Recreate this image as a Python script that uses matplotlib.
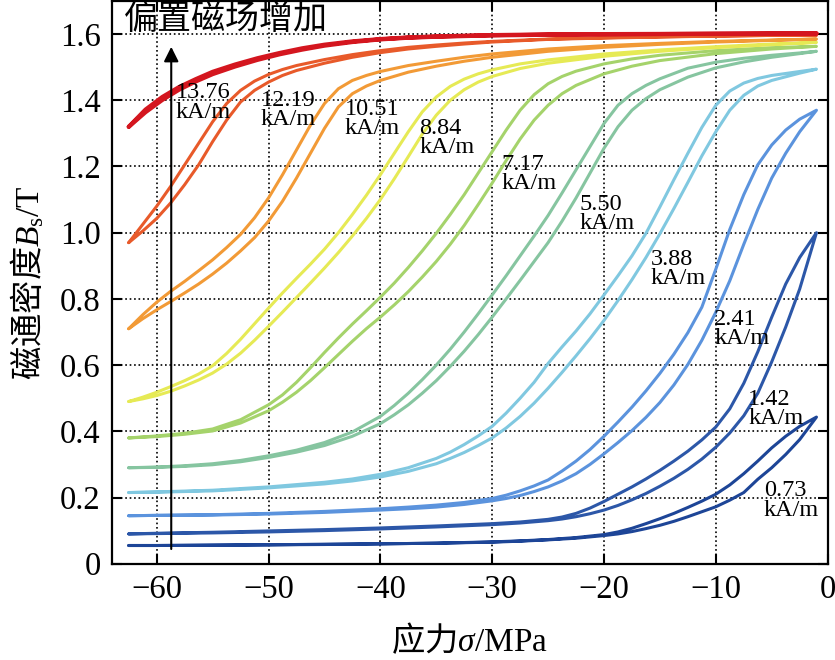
import matplotlib
matplotlib.use("Agg")
import matplotlib.pyplot as plt

plt.rcParams['font.family'] = ['Liberation Serif', 'Noto Sans CJK SC']
plt.rcParams['mathtext.fontset'] = 'custom'
plt.rcParams['mathtext.rm'] = 'Liberation Serif'
plt.rcParams['mathtext.it'] = 'Liberation Serif:italic'
plt.rcParams['mathtext.sf'] = 'Noto Sans CJK SC'

# bias field of each loop (kA/m), weakest first
fields = ['0.73', '1.42', '2.41', '3.88', '5.50', '7.17', '8.84', '10.51', '12.19', '13.76']

# stress points (MPa) and upper / lower branch of every loop (T)
s01 = [-62.5, -60, -55, -50, -45, -40, -35, -30, -27.5, -25, -22.5, -20, -18.75, -17.5, -16.25, -15,
       -13.75, -12.5, -11.25, -10, -8.75, -7.5, -6.25, -5, -3.75, -2.5, -1]
up01 = [0.055, 0.055, 0.056, 0.057, 0.059, 0.060, 0.062, 0.066, 0.069, 0.073, 0.079, 0.088, 0.096, 0.107,
        0.121, 0.136, 0.152, 0.170, 0.189, 0.210, 0.238, 0.272, 0.310, 0.350, 0.385, 0.415, 0.443]
lo01 = [0.055, 0.055, 0.056, 0.057, 0.058, 0.060, 0.062, 0.065, 0.068, 0.072, 0.077, 0.085, 0.090, 0.097,
        0.106, 0.116, 0.128, 0.142, 0.157, 0.172, 0.192, 0.215, 0.255, 0.290, 0.330, 0.375, 0.443]

s02 = [-62.5, -60, -55, -50, -45, -40, -35, -30, -27.5, -25, -23.75, -22.5, -21.25, -20, -18.75, -17.5,
       -16.25, -15, -13.75, -12.5, -11.25, -10, -8.75, -7.5, -6.25, -5, -3.75, -2.5, -1]
up02 = [0.090, 0.092, 0.095, 0.099, 0.103, 0.108, 0.114, 0.121, 0.126, 0.134, 0.141, 0.152, 0.168, 0.188,
        0.210, 0.232, 0.256, 0.282, 0.310, 0.340, 0.374, 0.413, 0.468, 0.545, 0.640, 0.745, 0.845, 0.925, 1.000]
lo02 = [0.090, 0.091, 0.093, 0.096, 0.100, 0.105, 0.111, 0.118, 0.123, 0.130, 0.135, 0.142, 0.151, 0.162,
        0.176, 0.193, 0.212, 0.234, 0.258, 0.285, 0.316, 0.352, 0.395, 0.447, 0.515, 0.610, 0.715, 0.830, 1.000]

s03 = [-62.5, -60, -55, -50, -45, -40, -37.5, -35, -32.5, -30, -28.75, -27.5, -26.25, -25, -23.75, -22.5,
       -21.25, -20, -18.75, -17.5, -16.25, -15, -13.75, -12.5, -11.25, -10, -8.75, -7.5, -6.25, -5, -3.75,
       -2.5, -1]
up03 = [0.145, 0.146, 0.148, 0.152, 0.158, 0.166, 0.171, 0.177, 0.185, 0.197, 0.207, 0.220, 0.235, 0.253,
        0.280, 0.310, 0.345, 0.385, 0.428, 0.473, 0.522, 0.575, 0.633, 0.698, 0.775, 0.890, 1.010, 1.115,
        1.205, 1.265, 1.310, 1.343, 1.370]
lo03 = [0.145, 0.146, 0.147, 0.150, 0.155, 0.162, 0.166, 0.171, 0.179, 0.190, 0.197, 0.206, 0.218, 0.232,
        0.250, 0.272, 0.300, 0.332, 0.366, 0.402, 0.442, 0.487, 0.540, 0.602, 0.675, 0.760, 0.855, 0.965,
        1.070, 1.165, 1.240, 1.305, 1.370]

s04 = [-62.5, -60, -55, -50, -45, -42.5, -40, -37.5, -35, -33.75, -32.5, -31.25, -30, -28.75, -27.5, -26.25,
       -25, -23.75, -22.5, -21.25, -20, -18.75, -17.5, -16.25, -15, -13.75, -12.5, -11.25, -10, -8.75, -7.5,
       -6.25, -5, -2.5, -1]
up04 = [0.215, 0.217, 0.222, 0.232, 0.246, 0.256, 0.270, 0.290, 0.318, 0.337, 0.360, 0.386, 0.415, 0.455,
        0.500, 0.548, 0.605, 0.655, 0.703, 0.755, 0.812, 0.870, 0.930, 0.998, 1.078, 1.160, 1.240, 1.318,
        1.385, 1.428, 1.452, 1.466, 1.475, 1.487, 1.494]
lo04 = [0.215, 0.216, 0.220, 0.229, 0.241, 0.250, 0.262, 0.279, 0.302, 0.318, 0.336, 0.357, 0.380, 0.410,
        0.445, 0.485, 0.530, 0.578, 0.628, 0.680, 0.735, 0.795, 0.858, 0.925, 0.997, 1.073, 1.152, 1.232,
        1.305, 1.370, 1.415, 1.443, 1.460, 1.482, 1.494]

s05 = [-62.5, -60, -57.5, -55, -52.5, -50, -47.5, -45, -42.5, -40, -38.75, -37.5, -36.25, -35, -33.75, -32.5,
       -31.25, -30, -28.75, -27.5, -26.25, -25, -23.75, -22.5, -21.25, -20, -18.75, -17.5, -16.25, -15,
       -12.5, -10, -7.5, -5, -2.5, -1]
up05 = [0.290, 0.292, 0.296, 0.302, 0.312, 0.326, 0.343, 0.366, 0.398, 0.445, 0.478, 0.515, 0.556, 0.600,
        0.648, 0.700, 0.755, 0.812, 0.870, 0.930, 0.990, 1.052, 1.120, 1.190, 1.260, 1.330, 1.385, 1.420,
        1.445, 1.465, 1.497, 1.515, 1.527, 1.536, 1.543, 1.548]
lo05 = [0.290, 0.291, 0.294, 0.299, 0.308, 0.321, 0.337, 0.357, 0.385, 0.423, 0.450, 0.480, 0.515, 0.553,
        0.596, 0.642, 0.692, 0.745, 0.800, 0.856, 0.913, 0.970, 1.035, 1.105, 1.180, 1.255, 1.320, 1.370,
        1.405, 1.432, 1.470, 1.498, 1.516, 1.530, 1.541, 1.548]

s06 = [-62.5, -60, -57.5, -55, -52.5, -50, -48.75, -47.5, -46.25, -45, -43.75, -42.5, -41.25, -40, -38.75,
       -37.5, -36.25, -35, -33.75, -32.5, -31.25, -30, -28.75, -27.5, -26.25, -25, -23.75, -22.5, -20, -17.5,
       -15, -10, -5, -1]
up06 = [0.380, 0.386, 0.394, 0.407, 0.435, 0.480, 0.510, 0.548, 0.592, 0.638, 0.682, 0.724, 0.764, 0.805,
        0.848, 0.895, 0.945, 0.998, 1.055, 1.115, 1.180, 1.245, 1.310, 1.370, 1.417, 1.450, 1.472, 1.488,
        1.510, 1.525, 1.536, 1.550, 1.559, 1.563]
lo06 = [0.380, 0.384, 0.391, 0.401, 0.425, 0.462, 0.488, 0.518, 0.553, 0.592, 0.632, 0.672, 0.710, 0.745,
        0.782, 0.822, 0.866, 0.913, 0.965, 1.022, 1.085, 1.150, 1.218, 1.283, 1.340, 1.385, 1.420, 1.445,
        1.480, 1.503, 1.520, 1.541, 1.555, 1.563]

s07 = [-62.5, -61.25, -60, -58.75, -57.5, -56.25, -55, -53.75, -52.5, -51.25, -50, -48.75, -47.5, -46.25,
       -45, -43.75, -42.5, -41.25, -40, -38.75, -37.5, -36.25, -35, -33.75, -32.5, -31.25, -30, -27.5, -25,
       -20, -15, -10, -5, -1]
up07 = [0.490, 0.503, 0.518, 0.535, 0.553, 0.573, 0.598, 0.635, 0.678, 0.725, 0.772, 0.818, 0.862, 0.905,
        0.950, 1.000, 1.055, 1.113, 1.175, 1.240, 1.305, 1.365, 1.410, 1.442, 1.464, 1.480, 1.492, 1.510,
        1.522, 1.540, 1.552, 1.562, 1.570, 1.575]
lo07 = [0.490, 0.498, 0.508, 0.521, 0.537, 0.555, 0.576, 0.603, 0.636, 0.675, 0.717, 0.760, 0.804, 0.848,
        0.893, 0.940, 0.990, 1.043, 1.100, 1.163, 1.230, 1.298, 1.355, 1.400, 1.432, 1.455, 1.472, 1.496,
        1.512, 1.533, 1.548, 1.559, 1.568, 1.575]

s08 = [-62.5, -61.25, -60, -58.75, -57.5, -56.25, -55, -53.75, -52.5, -51.25, -50, -48.75, -47.5, -46.25,
       -45, -43.75, -42.5, -41.25, -40, -37.5, -35, -32.5, -30, -25, -20, -15, -10, -5, -1]
up08 = [0.710, 0.752, 0.790, 0.823, 0.853, 0.885, 0.918, 0.955, 0.995, 1.045, 1.105, 1.175, 1.250, 1.325,
        1.390, 1.435, 1.460, 1.475, 1.487, 1.505, 1.518, 1.530, 1.540, 1.555, 1.565, 1.572, 1.578, 1.582, 1.585]
lo08 = [0.710, 0.740, 0.767, 0.792, 0.818, 0.845, 0.875, 0.908, 0.945, 0.985, 1.035, 1.095, 1.165, 1.240,
        1.315, 1.380, 1.420, 1.443, 1.460, 1.485, 1.503, 1.518, 1.530, 1.548, 1.560, 1.569, 1.576, 1.581, 1.585]

s09 = [-62.5, -61.25, -60, -58.75, -57.5, -56.25, -55, -53.75, -52.5, -51.25, -50, -48.75, -47.5, -45,
       -42.5, -40, -37.5, -35, -32.5, -30, -25, -20, -15, -10, -5, -1]
up09 = [0.970, 1.025, 1.080, 1.140, 1.205, 1.270, 1.335, 1.390, 1.430, 1.458, 1.478, 1.493, 1.505, 1.523,
        1.538, 1.550, 1.560, 1.567, 1.573, 1.578, 1.585, 1.589, 1.592, 1.594, 1.596, 1.597]
lo09 = [0.970, 1.005, 1.043, 1.090, 1.145, 1.205, 1.275, 1.340, 1.395, 1.430, 1.455, 1.475, 1.490, 1.512,
        1.530, 1.544, 1.555, 1.563, 1.570, 1.576, 1.584, 1.588, 1.591, 1.594, 1.596, 1.597]

s10 = [-62.5, -61, -59.5, -58, -56.5, -55, -53, -51, -49, -47, -45, -42.5, -40, -37.5, -35, -30, -25, -20,
       -10, -1]
up10 = [1.320, 1.372, 1.410, 1.440, 1.464, 1.486, 1.508, 1.527, 1.543, 1.557, 1.568, 1.578, 1.585, 1.590,
        1.593, 1.597, 1.599, 1.600, 1.601, 1.602]
lo10 = [1.320, 1.364, 1.401, 1.432, 1.457, 1.479, 1.502, 1.522, 1.539, 1.553, 1.565, 1.576, 1.584, 1.589,
        1.592, 1.596, 1.598, 1.599, 1.601, 1.602]

stress = [s01, s02, s03, s04, s05, s06, s07, s08, s09, s10]
upper = [up01, up02, up03, up04, up05, up06, up07, up08, up09, up10]
lower = [lo01, lo02, lo03, lo04, lo05, lo06, lo07, lo08, lo09, lo10]

colors = ['#1d4597', '#2c57a8', '#5b93dd', '#80c8e0', '#86c5a0', '#a5d36b',
          '#e6ea55', '#f29a36', '#e85a2a', '#d4161f']

# label anchor (top-left), MPa / T
label_x = [-5.7, -7.1, -10.15, -15.8, -22.2, -29.2, -36.5, -43.2, -50.7, -58.3]
label_y = [0.252, 0.529, 0.770, 0.951, 1.117, 1.238, 1.348, 1.404, 1.431, 1.454]

xticks = [-60, -50, -40, -30, -20, -10, 0]
xticklabels = ['\u221260', '\u221250', '\u221240', '\u221230', '\u221220', '\u221210', '0']
yticks = [0, 0.2, 0.4, 0.6, 0.8, 1.0, 1.2, 1.4, 1.6]
yticklabels = ['0', '0.2', '0.4', '0.6', '0.8', '1.0', '1.2', '1.4', '1.6']

fig = plt.figure(figsize=(8.35, 6.6), dpi=100)
ax = fig.add_axes([0.1341, 0.1459, 0.8571, 0.8526])

for i in range(len(upper)):
    xs = stress[i] + stress[i][::-1]
    ys = upper[i] + lower[i][::-1]
    lw = 3.0 if i == len(upper) - 1 else 2.2
    ax.plot(xs, ys, color=colors[i], lw=lw, solid_capstyle='round', solid_joinstyle='round', zorder=3)

for i in range(len(fields)):
    ax.text(label_x[i], label_y[i], fields[i] + '\nkA/m', fontsize=17.5, ha='left', va='top',
            linespacing=0.9, zorder=4)

ax.annotate('', xy=(-58.7, 1.57), xytext=(-58.7, 0.036),
            arrowprops=dict(arrowstyle='-|>', color='black', lw=1.5, mutation_scale=22), zorder=5)
ax.text(0.017, 0.999, '偏置磁场增加', transform=ax.transAxes, fontsize=24.5, ha='left', va='top',
        family=['Noto Sans CJK SC'])

ax.set_xlim(-64, 0)
ax.set_ylim(0, 1.7)
ax.set_xticks(xticks)
ax.set_xticklabels(xticklabels)
ax.set_yticks(yticks)
ax.set_yticklabels(yticklabels)
ax.tick_params(direction='in', top=True, right=True, length=7, width=1.5, labelsize=23.5, pad=8)
ax.grid(True, linestyle=':', color='black', lw=1.2)
ax.set_axisbelow(True)
for s in ax.spines.values():
    s.set_linewidth(1.6)

ax.set_xlabel(r'$\mathsf{应力}\sigma$/MPa', fontsize=24, labelpad=12)
ax.set_ylabel(r'$\mathsf{磁通密度}B_\mathrm{s}$/T', fontsize=24, labelpad=10)

fig.savefig('out.png', dpi=100)
